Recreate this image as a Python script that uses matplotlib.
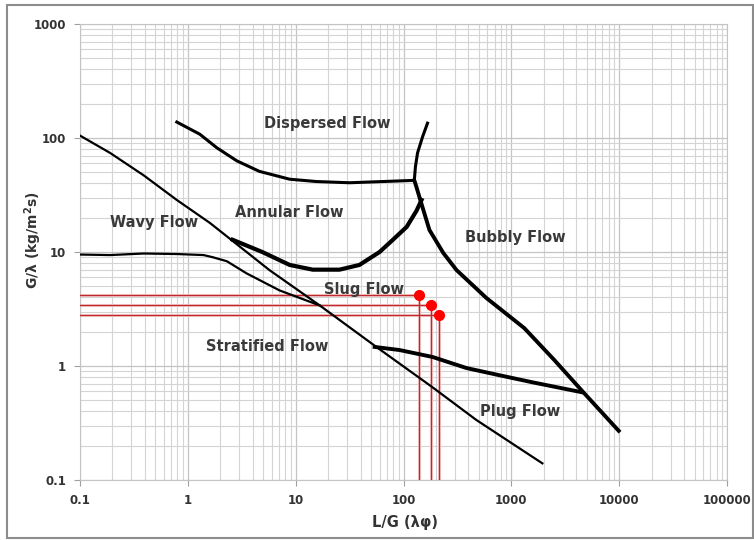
import numpy as np
import matplotlib.pyplot as plt
from matplotlib.patches import Rectangle

# Frontières du diagramme (lecture graphique, L/G en x, G/lambda en y)
a_x = [0.1, 0.19, 0.39, 0.79, 1.6, 2.55, 5.7, 16.7, 56, 186, 474, 1940]
a_y = [105, 74, 47, 28.6, 18, 12.7, 6.95, 3.4, 1.47, 0.65, 0.336, 0.14]

b_x = [0.1, 0.19, 0.39, 0.79, 1.4, 1.7, 2.3, 3.5, 7.1, 16.7]
b_y = [9.5, 9.4, 9.7, 9.6, 9.4, 9.0, 8.3, 6.5, 4.6, 3.4]

c_x = [2.6, 4.9, 8.8, 14.4, 25.5, 39, 60, 79, 107, 132, 147]
c_y = [12.8, 10, 7.7, 7.0, 7.0, 7.7, 10, 12.7, 16.6, 23, 28.6]

d_x = [0.79, 1.29, 1.86, 2.85, 4.6, 8.8, 15.6, 31.6, 64, 126]
d_y = [138, 108, 82, 63, 51, 43.5, 41.5, 40.5, 41.5, 42.5]

e_x = [126, 129, 135, 150, 167]
e_y = [42.5, 56, 74, 102, 135]

f_x = [126, 132, 141, 174, 234, 310, 587, 1318, 2500, 4640, 9900]
f_y = [42.5, 37, 30, 15.6, 9.8, 6.95, 3.95, 2.15, 1.13, 0.59, 0.27]

g_x = [54, 92, 186, 383, 774, 1563, 4450]
g_y = [1.47, 1.38, 1.2, 0.96, 0.83, 0.72, 0.59]

# Points de fonctionnement
pts_x = [138, 178, 215]
pts_y = [4.2, 3.45, 2.8]

labels = ["Dispersed Flow", "Annular Flow", "Wavy Flow", "Bubbly Flow",
          "Slug Flow", "Stratified Flow", "Plug Flow"]
lab_x = [19.8, 8.8, 0.49, 1090, 42.7, 5.5, 1210]
lab_y = [135, 22.4, 18, 13.3, 4.7, 1.47, 0.40]

xmin, xmax = 0.1, 100000
ymin, ymax = 0.1, 1000

fig = plt.figure(figsize=(7.54, 5.40), dpi=100)
ax = fig.add_axes([80 / 754, 60 / 540, 647 / 754, 456 / 540])
fig.patches.append(Rectangle((7 / 754, 2 / 540), 746 / 754, 533 / 540,
                             transform=fig.transFigure, fill=False,
                             edgecolor='#8c8c8c', linewidth=1.5))

ax.set_xscale('log')
ax.set_yscale('log')
ax.set_xlim(xmin, xmax)
ax.set_ylim(ymin, ymax)

ax.grid(True, which='major', color='#c4c4c4', linewidth=0.9)
ax.grid(True, which='minor', color='#d4d4d4', linewidth=0.8)
ax.set_axisbelow(True)
for s in ax.spines.values():
    s.set_color('#c4c4c4')

# Lignes rouges de lecture
for px, py in zip(pts_x, pts_y):
    ax.plot([xmin, px], [py, py], color='#f6d8d8', lw=2.2, zorder=2)
    ax.plot([px, px], [ymin, py], color='#f6d8d8', lw=2.2, zorder=2)
    ax.plot([xmin, px], [py, py], color='#c0282d', lw=1, zorder=3)
    ax.plot([px, px], [ymin, py], color='#c0282d', lw=1, zorder=3)

ax.plot(a_x, a_y, color='black', lw=1.6, zorder=4)
ax.plot(b_x, b_y, color='black', lw=1.6, zorder=4)
ax.plot(c_x, c_y, color='black', lw=3, zorder=4)
ax.plot(d_x, d_y, color='black', lw=2.2, zorder=4)
ax.plot(e_x, e_y, color='black', lw=2.2, zorder=4)
ax.plot(f_x, f_y, color='black', lw=2.8, zorder=4)
ax.plot(g_x, g_y, color='black', lw=2.8, zorder=4)

ax.plot(pts_x, pts_y, 'o', color='#ff0000', ms=7, zorder=5)

for t, x, y in zip(labels, lab_x, lab_y):
    ax.text(x, y, t, ha='center', va='center', fontsize=10.5,
            fontweight='bold', color='#3a3a3a', zorder=6)

xt = [0.1, 1, 10, 100, 1000, 10000, 100000]
yt = [0.1, 1, 10, 100, 1000]
ax.set_xticks(xt)
ax.set_xticklabels(['0.1', '1', '10', '100', '1000', '10000', '100000'])
ax.set_yticks(yt)
ax.set_yticklabels(['0.1', '1', '10', '100', '1000'])
ax.tick_params(which='major', length=4, color='#a0a0a0', labelsize=8.5,
               labelcolor='#333333', pad=6)
ax.tick_params(which='minor', length=0)
for lb in ax.get_xticklabels() + ax.get_yticklabels():
    lb.set_fontweight('bold')

ax.set_xlabel('L/G (λφ)', fontsize=10.5, fontweight='bold', color='#333333')
ax.set_ylabel('G/λ (kg/m$^\\mathbf{2}$s)', fontsize=10, fontweight='bold',
              color='#333333')
ax.xaxis.set_label_coords(0.502, -0.076)
ax.yaxis.set_label_coords(-0.056, 0.526)

fig.savefig('out.png', dpi=100)
